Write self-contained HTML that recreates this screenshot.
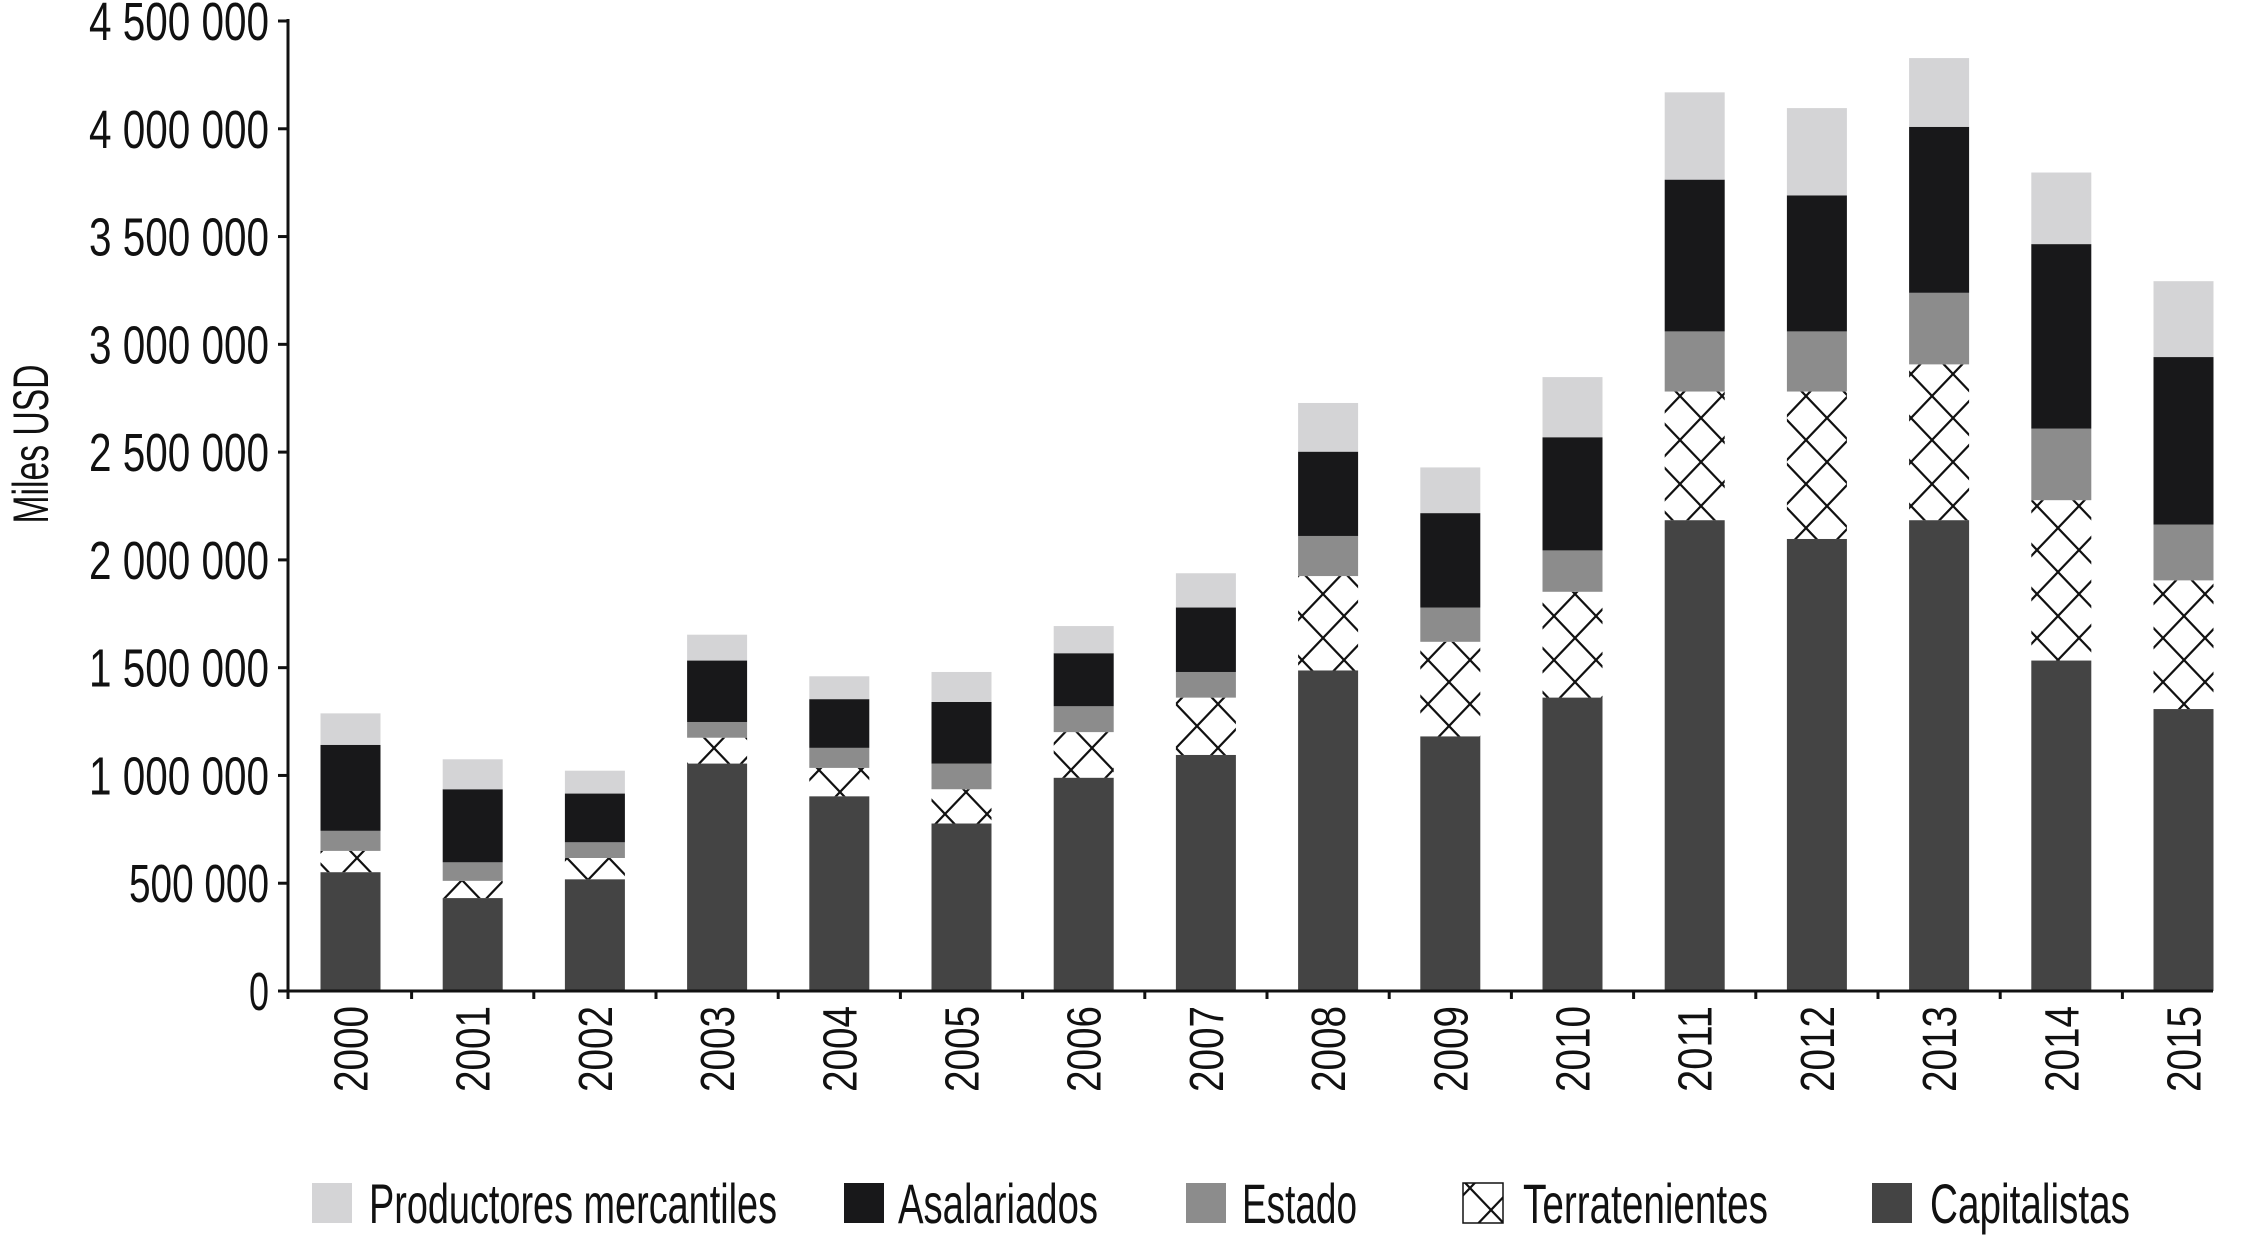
<!DOCTYPE html>
<html><head><meta charset="utf-8"><style>
html,body{margin:0;padding:0;background:#fff;}
svg{display:block;font-family:"Liberation Sans",sans-serif;}
</style></head><body>
<svg id="chart" width="2243" height="1240" viewBox="0 0 2243 1240" xmlns="http://www.w3.org/2000/svg">
<defs>
<pattern id="hatch" patternUnits="userSpaceOnUse" width="42" height="44">
<path d="M0,0 L42,44 M42,0 L0,44" stroke="#111" stroke-width="2.2" fill="none"/>
</pattern>
</defs>
<g id="bars"></g>
<g id="axes"></g>
<g id="legend"></g>
</svg>
<script>
const years = ["2000","2001","2002","2003","2004","2005","2006","2007","2008","2009","2010","2011","2012","2013","2014","2015"];
const capitalistas = [551,431,518,1055,903,777,989,1095,1487,1181,1361,2184,2097,2184,1533,1308];
const terratenientes = [99,80,99,120,132,159,212,266,438,439,491,597,684,723,744,597];
const estado = [93,86,73,73,93,119,120,119,186,159,192,279,279,332,332,259];
const asalariados = [399,339,226,285,226,286,246,299,391,438,525,704,631,770,856,777];
const productores = [146,139,106,120,106,139,126,159,226,212,279,405,405,319,332,352];
const yTicks = [0,500000,1000000,1500000,2000000,2500000,3000000,3500000,4000000,4500000];
const yTickLabels = ["0","500 000","1 000 000","1 500 000","2 000 000","2 500 000","3 000 000","3 500 000","4 000 000","4 500 000"];

const NS = "http://www.w3.org/2000/svg";
const X0 = 288, Y0 = 991, YTOP = 21, YMAX = 4500000;
function yScale(v){ return Y0 - (v / YMAX) * (Y0 - YTOP); }
function xCenter(i){ return 350.5 + 122.2 * i; }
const BW = 60;
function mk(tag, attrs, parent){
  const e = document.createElementNS(NS, tag);
  for (const k in attrs) e.setAttribute(k, attrs[k]);
  parent.appendChild(e); return e;
}
const bars = document.getElementById('bars');
const axes = document.getElementById('axes');
const legend = document.getElementById('legend');
const series = [
  {name:"capitalistas", vals:capitalistas, fill:"#444444"},
  {name:"terratenientes", vals:terratenientes, fill:"url(#hatch)"},
  {name:"estado", vals:estado, fill:"#8c8c8c"},
  {name:"asalariados", vals:asalariados, fill:"#18181a"},
  {name:"productores", vals:productores, fill:"#d4d4d6"}
];
years.forEach((yr, i) => {
  let base = 0;
  series.forEach(s => {
    const v = s.vals[i] * 1000;
    const y1 = yScale(base), y2 = yScale(base + v);
    const r = mk('rect', {x: xCenter(i) - BW/2, y: y2, width: BW, height: y1 - y2, fill: s.fill}, bars);
    
    
    base += v;
  });
});
let l = mk('line', {x1:X0, y1:YTOP-2, x2:X0, y2:Y0+8, stroke:"#111", "stroke-width":3}, axes);


l = mk('line', {x1:X0-10, y1:Y0, x2:2213, y2:Y0, stroke:"#111", "stroke-width":3}, axes);


yTicks.forEach((t, i) => {
  const y = yScale(t);
  const tk = mk('line', {x1:X0-10, y1:y, x2:X0, y2:y, stroke:"#111", "stroke-width":3}, axes);
  
  
  const lbl = yTickLabels[i];
  const attrs = {x:269, y:y+19, "text-anchor":"end", "font-size":54, fill:"#111", textLength: lbl.length * 20, lengthAdjust:"spacingAndGlyphs"};
  const tx = mk('text', attrs, axes);
  tx.textContent = lbl;
  
  
});
for (let i = 1; i <= years.length; i++){
  const x = xCenter(i-1) + 61.1;
  const tk = mk('line', {x1:x, y1:Y0, x2:x, y2:Y0+8, stroke:"#111", "stroke-width":3}, axes);
  
  
}
years.forEach((yr, i) => {
  const cx = xCenter(i);
  const tx = mk('text', {x:0, y:0, "text-anchor":"end", "font-size":48, fill:"#111", textLength:86, lengthAdjust:"spacingAndGlyphs", transform:`translate(${cx+17},1006) rotate(-90)`}, axes);
  tx.textContent = yr;
  
  
});
const yt = mk('text', {x:0, y:0, "text-anchor":"middle", "font-size":50, fill:"#111", textLength:159, lengthAdjust:"spacingAndGlyphs", transform:"translate(48,444) rotate(-90)"}, axes);
yt.textContent = "Miles USD";


const legItems = [
  {label:"Productores mercantiles", fill:"#d4d4d6", bx:312, tx:369, tl:408},
  {label:"Asalariados", fill:"#18181a", bx:844, tx:898, tl:200},
  {label:"Estado", fill:"#8c8c8c", bx:1186, tx:1242, tl:115},
  {label:"Terratenientes", fill:"url(#hatch)", bx:1463, tx:1523, tl:245},
  {label:"Capitalistas", fill:"#444444", bx:1872, tx:1930, tl:200}
];
legItems.forEach(it => {
  const g = mk('g', {}, legend);
  
  
  mk('rect', {x:it.bx, y:1183, width:40, height:40, fill:it.fill, stroke: it.fill.startsWith('url') ? "#111" : "none", "stroke-width":1.5}, g);
  const t = mk('text', {x:it.tx, y:1223, "font-size":56, fill:"#111", textLength:it.tl, lengthAdjust:"spacingAndGlyphs"}, g);
  t.textContent = it.label;
});
</script>
</body></html>
